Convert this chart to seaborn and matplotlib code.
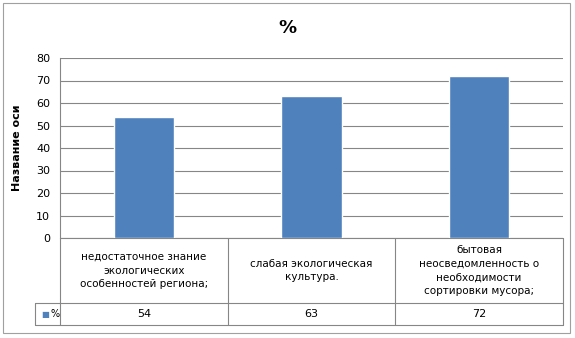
import matplotlib
matplotlib.use("Agg")
import matplotlib.pyplot as plt
import seaborn as sns
import pandas as pd
from matplotlib.patches import Rectangle

# data
categories = ["недостаточное знание\nэкологических\nособенностей региона;",
              "слабая экологическая\nкультура.",
              "бытовая\nнеосведомленность о\nнеобходимости\nсортировки мусора;"]
values = [54, 63, 72]
series_name = "%"
yticks = [0, 10, 20, 30, 40, 50, 60, 70, 80]

df = pd.DataFrame({"cat": categories, "val": values})

sns.set_style("white")
plt.rcParams['font.family'] = ['DejaVu Sans']
plt.rcParams['text.color'] = 'black'
plt.rcParams['ytick.color'] = 'black'
plt.rcParams['axes.labelcolor'] = 'black'

W, H = 575, 338
fig = plt.figure(figsize=(W / 100, H / 100), dpi=100)
ax = fig.add_axes([60 / W, (H - 238) / H, 503 / W, 180 / H])

bar_color = "#4F81BD"
grid_color = "#868686"
sns.barplot(data=df, x="cat", y="val", color=bar_color, width=0.36,
            saturation=1, ax=ax, zorder=3)

ax.set_ylim(0, 80)
ax.set_xlim(-0.5, len(categories) - 0.5)
ax.set_yticks(yticks)
ax.set_yticklabels([str(t) for t in yticks], fontsize=8)
ax.set_xticks([])
ax.set_xlabel("")
ax.set_ylabel("Название оси", fontsize=8, fontweight="bold", labelpad=10)
ax.yaxis.grid(True, color=grid_color, linewidth=0.8, zorder=0)
ax.tick_params(axis="y", length=4, color=grid_color, width=0.8, pad=3)
for s in ["top", "right", "bottom"]:
    ax.spines[s].set_visible(False)
ax.spines["left"].set_color(grid_color)
ax.spines["left"].set_linewidth(0.8)

fig.suptitle(series_name, fontsize=13, fontweight="bold", y=1 - 19 / H)

# data table below the axis
row1 = -65 / 180
row2 = -87 / 180
leg_x = -25 / 503
trans = ax.get_xaxis_transform()
n = len(categories)
lw = 0.8
# horizontal lines
ax.plot([-0.5, n - 0.5], [row1, row1], transform=trans, color=grid_color, lw=lw, clip_on=False)
ax.plot([-0.5, n - 0.5], [row2, row2], transform=trans, color=grid_color, lw=lw, clip_on=False)
ax.plot([0, 1], [0, 0], transform=ax.transAxes, color=grid_color, lw=lw, clip_on=False)
ax.plot([leg_x, 0], [row1, row1], transform=ax.transAxes, color=grid_color, lw=lw, clip_on=False)
ax.plot([leg_x, 0], [row2, row2], transform=ax.transAxes, color=grid_color, lw=lw, clip_on=False)
ax.plot([leg_x, leg_x], [row1, row2], transform=ax.transAxes, color=grid_color, lw=lw, clip_on=False)
# vertical lines
for i in range(n + 1):
    ax.plot([i - 0.5, i - 0.5], [0, row2], transform=trans, color=grid_color, lw=lw, clip_on=False)
# texts
for i, (c, v) in enumerate(zip(categories, values)):
    ax.text(i, row1 / 2, c, transform=trans, ha="center", va="center",
            fontsize=7.5, linespacing=1.45, clip_on=False)
    ax.text(i, (row1 + row2) / 2, str(v), transform=trans, ha="center", va="center",
            fontsize=8, clip_on=False)
# legend key in table
ax.text(leg_x / 2 + 0.004, (row1 + row2) / 2, "■", transform=ax.transAxes, ha="right",
        va="center", fontsize=6, color=bar_color, clip_on=False)
ax.text(leg_x / 2 + 0.006, (row1 + row2) / 2, series_name, transform=ax.transAxes, ha="left",
        va="center", fontsize=7, clip_on=False)

# outer chart border
fig.patches.append(Rectangle((3 / W, 5 / H), 567 / W, 330 / H, transform=fig.transFigure,
                             fill=False, edgecolor="#A0A0A0", linewidth=0.8))

fig.savefig("out.png", dpi=100)
